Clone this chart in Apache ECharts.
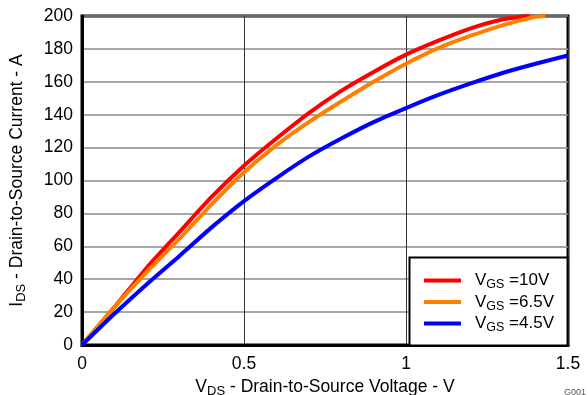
<!DOCTYPE html>
<html>
<head>
<meta charset="utf-8">
<script src="https://cdn.jsdelivr.net/npm/echarts@6/dist/echarts.min.js"></script>
<style>
  html, body { margin: 0; padding: 0; background: #fff; }
  #chart { width: 588px; height: 395px; }
</style>
</head>
<body>
<div id="chart"></div>
<script>
// Output characteristics: drain current vs drain-source voltage at three gate drives
const vds10 = [0, 0.1, 0.2, 0.3, 0.4, 0.5, 0.6, 0.7, 0.8, 0.9, 1.0, 1.1, 1.2, 1.3, 1.38];
const ids10 = [0, 23, 47, 68.5, 90, 109, 125.5, 141, 154.5, 166, 176.5, 185, 192.5, 198, 200];

const vds65 = [0, 0.1, 0.2, 0.3, 0.4, 0.5, 0.6, 0.7, 0.8, 0.9, 1.0, 1.1, 1.2, 1.3, 1.4, 1.43];
const ids65 = [0, 23, 44.5, 64.5, 85.5, 105, 121.5, 135.5, 148, 160, 171, 180.5, 188, 194.5, 199.5, 200];

const vds45 = [0, 0.1, 0.2, 0.3, 0.4, 0.5, 0.6, 0.7, 0.8, 0.9, 1.0, 1.1, 1.2, 1.3, 1.4, 1.5];
const ids45 = [0, 19, 37, 54, 71.5, 87.5, 101.5, 114.5, 125.5, 135.5, 144, 152, 159, 165.5, 171, 176];

const seriesNames = ['VGS=10V', 'VGS=6.5V', 'VGS=4.5V'];
const seriesLabels = { 'VGS=10V': '=10V', 'VGS=6.5V': '=6.5V', 'VGS=4.5V': '=4.5V' };
const seriesColors = ['#ff0000', '#ff8000', '#0000ff'];

const xTicks = { min: 0, max: 1.5, step: 0.5 };
const yTicks = { min: 0, max: 200, step: 20 };

const pairs = (xs, ys) => xs.map((x, i) => [x, ys[i]]);
const FONT = 'Liberation Sans, Arial, sans-serif';

// main text + lowered subscript
const subRich = (main, sub) => ({
  a: { fontFamily: FONT, fontSize: main, color: '#000', lineHeight: 22 },
  s: { fontFamily: FONT, fontSize: sub, color: '#000', lineHeight: 12, verticalAlign: 'bottom' }
});

const chart = echarts.init(document.getElementById('chart'), null, { renderer: 'canvas' });

chart.setOption({
  animation: false,
  backgroundColor: '#fff',
  grid: {
    left: 82, right: 20, top: 16, bottom: 50,
    outerBoundsMode: 'none',
    containLabel: false,
    show: true, borderColor: '#000', borderWidth: 3, backgroundColor: 'transparent'
  },
  xAxis: {
    type: 'value',
    min: xTicks.min, max: xTicks.max, interval: xTicks.step,
    name: '{a|V}{s|DS}{a| - Drain-to-Source Voltage - V}',
    nameLocation: 'middle', nameGap: 30,
    nameTextStyle: { rich: subRich(17.5, 13) },
    axisLine: { show: true, lineStyle: { color: '#000', width: 3 } },
    axisTick: { show: false },
    axisLabel: { fontFamily: FONT, fontSize: 17.5, color: '#000', margin: 10,
      formatter: v => String(v) },
    splitLine: { show: true, lineStyle: { color: '#333', width: 1 } }
  },
  yAxis: {
    type: 'value',
    min: yTicks.min, max: yTicks.max, interval: yTicks.step,
    name: '{a|I}{s|DS}{a| - Drain-to-Source Current - A}',
    nameLocation: 'middle', nameGap: 54, nameRotate: 90,
    nameTextStyle: { rich: subRich(17.5, 13) },
    axisLine: { show: true, lineStyle: { color: '#000', width: 3 } },
    axisTick: { show: false },
    axisLabel: { fontFamily: FONT, fontSize: 17.5, color: '#000', margin: 9 },
    splitLine: { show: true, lineStyle: { color: '#888', width: 1.5 } }
  },
  legend: {
    orient: 'vertical',
    left: 409, top: 257,
    padding: [15, 0, 0, 15],
    itemGap: 2,
    itemWidth: 37, itemHeight: 4,
    icon: 'rect',
    data: seriesNames,
    formatter: name => '{a|V}{s|GS}{a| ' + seriesLabels[name] + '}',
    textStyle: { padding: [0, 0, 0, 9], rich: subRich(17, 12.5) }
  },
  series: [
    { name: seriesNames[0], data: pairs(vds10, ids10) },
    { name: seriesNames[1], data: pairs(vds65, ids65) },
    { name: seriesNames[2], data: pairs(vds45, ids45) }
  ].map((s, i) => Object.assign({
    type: 'line',
    symbol: 'none',
    smooth: 0.2,
    clip: true,
    color: seriesColors[i],
    lineStyle: { color: seriesColors[i], width: 4 }
  }, s)),
  graphic: [
    {
      type: 'rect', z: 3,
      shape: { x: 409.5, y: 257.5, width: 158, height: 88 },
      style: { fill: '#fff', stroke: '#000', lineWidth: 2 }
    },
    {
      type: 'text', left: 564, top: 388,
      style: { text: 'G001', fontFamily: FONT, fontSize: 9, fill: '#555' }
    }
  ]
});
</script>
</body>
</html>
